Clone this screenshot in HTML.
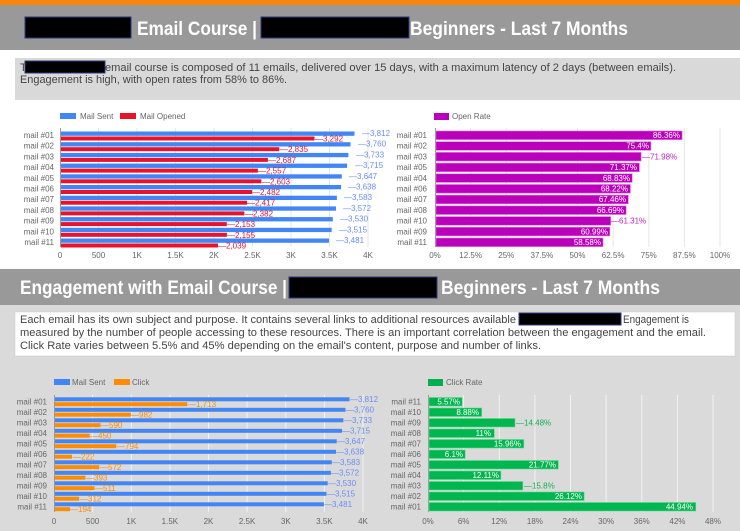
<!DOCTYPE html>
<html><head><meta charset="utf-8"><style>
body{margin:0;width:740px;height:531px;overflow:hidden;background:#fff;font-family:"Liberation Sans",sans-serif}
svg{display:block}
.t{font-family:"Liberation Sans",sans-serif;font-size:8px;fill:#666}
.h{font-family:"Liberation Sans",sans-serif;font-weight:bold;font-size:19px;fill:#fff}
.p{font-family:"Liberation Sans",sans-serif;font-size:11px;fill:#444}
.vb{font-size:8px;fill:#6a8ef5;font-family:"Liberation Sans",sans-serif}
.vr{font-size:8px;fill:#e8132b;font-family:"Liberation Sans",sans-serif}
.vo{font-size:8px;fill:#ff8c00;font-family:"Liberation Sans",sans-serif}
.vw{font-size:8px;fill:#fff;font-family:"Liberation Sans",sans-serif}
.vm{font-size:8px;fill:#c020c0;font-family:"Liberation Sans",sans-serif}
.vg{font-size:8px;fill:#10b050;font-family:"Liberation Sans",sans-serif}
</style></head><body>
<svg width="740" height="531" viewBox="0 0 740 531">
<rect x="0" y="0" width="740" height="5" fill="#f7860d"/>
<rect x="0" y="5" width="740" height="45" fill="#999"/>
<rect x="25" y="17" width="106" height="21" fill="#000" stroke="#2a3a80" stroke-width="1"/>
<text x="137" y="35" class="h" textLength="120" lengthAdjust="spacingAndGlyphs">Email Course |</text>
<rect x="261" y="17" width="148" height="21" fill="#000" stroke="#2a3a80" stroke-width="1"/>
<text x="410" y="35" class="h" textLength="218" lengthAdjust="spacingAndGlyphs">Beginners - Last 7 Months</text>
<rect x="15" y="58" width="725" height="42" fill="#d9d9d9"/>
<rect x="25" y="61" width="80" height="12" fill="#000" stroke="#2a3a80"/>
<text x="20" y="71" class="p">T</text>
<text x="105" y="71" class="p" textLength="571" lengthAdjust="spacingAndGlyphs">email course is composed of 11 emails, delivered over 15 days, with a maximum latency of 2 days (between emails).</text>
<text x="20" y="83" class="p" textLength="267" lengthAdjust="spacingAndGlyphs">Engagement is high, with open rates from 58% to 86%.</text>

<!-- top-left chart -->
<rect x="60" y="113" width="16" height="6" fill="#4285f4"/><text x="80" y="119" class="t">Mail Sent</text>
<rect x="120" y="113" width="16" height="6" fill="#e8132b"/><text x="140" y="119" class="t">Mail Opened</text>
<g stroke="#e6e6e6" stroke-width="1">
<line x1="98.5" y1="128" x2="98.5" y2="247"/><line x1="137" y1="128" x2="137" y2="247"/><line x1="175.5" y1="128" x2="175.5" y2="247"/><line x1="214" y1="128" x2="214" y2="247"/><line x1="252.5" y1="128" x2="252.5" y2="247"/><line x1="291" y1="128" x2="291" y2="247"/><line x1="329.5" y1="128" x2="329.5" y2="247"/><line x1="368" y1="128" x2="368" y2="247"/>
</g>
<line x1="60.5" y1="128" x2="60.5" y2="247" stroke="#999"/>
<g class="t" text-anchor="end">
<text x="54" y="138">mail #01</text><text x="54" y="148.7">mail #02</text><text x="54" y="159.4">mail #03</text><text x="54" y="170.1">mail #04</text><text x="54" y="180.8">mail #05</text><text x="54" y="191.5">mail #06</text><text x="54" y="202.2">mail #07</text><text x="54" y="212.9">mail #08</text><text x="54" y="223.6">mail #09</text><text x="54" y="234.3">mail #10</text><text x="54" y="245">mail #11</text>
</g>
<g class="t" text-anchor="middle">
<text x="60" y="258">0</text><text x="98.5" y="258">500</text><text x="137" y="258">1K</text><text x="175.5" y="258">1.5K</text><text x="214" y="258">2K</text><text x="252.5" y="258">2.5K</text><text x="291" y="258">3K</text><text x="329.5" y="258">3.5K</text><text x="368" y="258">4K</text>
</g>
<g fill="#4285f4">
<rect x="61" y="131.5" width="293.5" height="4.3"/><rect x="61" y="142.2" width="289.5" height="4.3"/><rect x="61" y="152.9" width="287.4" height="4.3"/><rect x="61" y="163.6" width="286.1" height="4.3"/><rect x="61" y="174.3" width="280.8" height="4.3"/><rect x="61" y="185" width="280.1" height="4.3"/><rect x="61" y="195.7" width="275.9" height="4.3"/><rect x="61" y="206.4" width="275" height="4.3"/><rect x="61" y="217.1" width="271.8" height="4.3"/><rect x="61" y="227.8" width="270.7" height="4.3"/><rect x="61" y="238.5" width="268" height="4.3"/>
</g>
<g fill="#e8132b">
<rect x="61" y="136.5" width="253.5" height="4"/><rect x="61" y="147.2" width="218.3" height="4"/><rect x="61" y="157.9" width="206.9" height="4"/><rect x="61" y="168.6" width="196.9" height="4"/><rect x="61" y="179.3" width="200.4" height="4"/><rect x="61" y="190" width="191.1" height="4"/><rect x="61" y="200.7" width="186.1" height="4"/><rect x="61" y="211.4" width="183.4" height="4"/><rect x="61" y="222.1" width="165.8" height="4"/><rect x="61" y="232.8" width="165.9" height="4"/><rect x="61" y="243.5" width="157" height="4"/>
</g>
<g class="vb">
<text x="362" y="136">—3,812</text><text x="358" y="146.7">—3,760</text><text x="356" y="157.4">—3,733</text><text x="355" y="168.1">—3,715</text><text x="349" y="178.8">—3,647</text><text x="348" y="189.5">—3,638</text><text x="344" y="200.2">—3,583</text><text x="343" y="210.9">—3,572</text><text x="340" y="221.6">—3,530</text><text x="339" y="232.3">—3,515</text><text x="336" y="243">—3,481</text>
</g>
<g class="vr">
<text x="315" y="141.5">—3,292</text><text x="280" y="152.2">—2,835</text><text x="268" y="162.9">—2,687</text><text x="258" y="173.6">—2,557</text><text x="262" y="184.3">—2,603</text><text x="252" y="195">—2,482</text><text x="247" y="205.7">—2,417</text><text x="245" y="216.4">—2,382</text><text x="227" y="227.1">—2,153</text><text x="227" y="237.8">—2,155</text><text x="218" y="248.5">—2,039</text>
</g>

<!-- top-right chart -->
<rect x="434" y="113" width="15" height="7" fill="#bb00bb"/><text x="452" y="119" class="t">Open Rate</text>
<g stroke="#e6e6e6">
<line x1="470.6" y1="128" x2="470.6" y2="247"/><line x1="506.3" y1="128" x2="506.3" y2="247"/><line x1="541.9" y1="128" x2="541.9" y2="247"/><line x1="577.5" y1="128" x2="577.5" y2="247"/><line x1="613.1" y1="128" x2="613.1" y2="247"/><line x1="648.8" y1="128" x2="648.8" y2="247"/><line x1="684.4" y1="128" x2="684.4" y2="247"/><line x1="720" y1="128" x2="720" y2="247"/>
</g>
<line x1="435.5" y1="128" x2="435.5" y2="247" stroke="#999"/>
<g class="t" text-anchor="end">
<text x="427" y="138">mail #01</text><text x="427" y="148.7">mail #02</text><text x="427" y="159.4">mail #03</text><text x="427" y="170.1">mail #05</text><text x="427" y="180.8">mail #04</text><text x="427" y="191.5">mail #06</text><text x="427" y="202.2">mail #07</text><text x="427" y="212.9">mail #08</text><text x="427" y="223.6">mail #10</text><text x="427" y="234.3">mail #09</text><text x="427" y="245">mail #11</text>
</g>
<g class="t" text-anchor="middle">
<text x="435" y="258">0%</text><text x="470.6" y="258">12.5%</text><text x="506.3" y="258">25%</text><text x="541.9" y="258">37.5%</text><text x="577.5" y="258">50%</text><text x="613.1" y="258">62.5%</text><text x="648.8" y="258">75%</text><text x="684.4" y="258">87.5%</text><text x="720" y="258">100%</text>
</g>
<g fill="#bb00bb" stroke="#e070e0" stroke-width="0.6">
<rect x="436" y="131" width="246.1" height="8.6"/><rect x="436" y="141.7" width="214.9" height="8.6"/><rect x="436" y="152.4" width="205.1" height="8.6"/><rect x="436" y="163.1" width="203.4" height="8.6"/><rect x="436" y="173.8" width="196.2" height="8.6"/><rect x="436" y="184.5" width="194.4" height="8.6"/><rect x="436" y="195.2" width="192.3" height="8.6"/><rect x="436" y="205.9" width="190.1" height="8.6"/><rect x="436" y="216.6" width="174.7" height="8.6"/><rect x="436" y="227.3" width="173.8" height="8.6"/><rect x="436" y="238" width="167" height="8.6"/>
</g>
<g class="vw" text-anchor="end">
<text x="680" y="138">86.36%</text><text x="649" y="148.7">75.4%</text><text x="637" y="170.1">71.37%</text><text x="630" y="180.8">68.83%</text><text x="628" y="191.5">68.22%</text><text x="626" y="202.2">67.46%</text><text x="624" y="212.9">66.69%</text><text x="608" y="234.3">60.99%</text><text x="601" y="245">58.58%</text>
</g>
<g class="vm"><text x="642" y="159.4">—71.98%</text><text x="611" y="223.6">—61.31%</text></g>

<!-- second section -->
<rect x="0" y="262" width="740" height="7" fill="#fff"/>
<rect x="0" y="269" width="740" height="262" fill="#dadada"/>
<rect x="0" y="269" width="740" height="36" fill="#999"/>
<text x="20" y="294" class="h" textLength="267" lengthAdjust="spacingAndGlyphs">Engagement with Email Course |</text>
<rect x="289" y="277" width="148" height="21" fill="#000" stroke="#2a3a80"/>
<text x="441" y="294" class="h" textLength="219" lengthAdjust="spacingAndGlyphs">Beginners - Last 7 Months</text>
<rect x="15" y="312" width="720" height="44" fill="#fff" stroke="#ccc" stroke-width="0.5"/>
<text x="20" y="323" class="p" textLength="496" lengthAdjust="spacingAndGlyphs">Each email has its own subject and purpose. It contains several links to additional resources available</text>
<rect x="519" y="313" width="102" height="12" fill="#000" stroke="#2a3a80"/>
<text x="623" y="323" class="p" textLength="66" lengthAdjust="spacingAndGlyphs">Engagement is</text>
<text x="20" y="336" class="p" textLength="686" lengthAdjust="spacingAndGlyphs">measured by the number of people accessing to these resources. There is an important correlation between the engagement and the email.</text>
<text x="20" y="349" class="p" textLength="521" lengthAdjust="spacingAndGlyphs">Click Rate varies between 5.5% and 45% depending on the email's content, purpose and number of links.</text>

<!-- bottom-left -->
<rect x="54" y="379" width="16" height="6" fill="#4285f4"/><text x="72" y="385" class="t">Mail Sent</text>
<rect x="114" y="379" width="16" height="6" fill="#ff8c00"/><text x="132" y="385" class="t">Click</text>
<g stroke="#f2f2f2">
<line x1="92.6" y1="395" x2="92.6" y2="512"/><line x1="131.3" y1="395" x2="131.3" y2="512"/><line x1="169.9" y1="395" x2="169.9" y2="512"/><line x1="208.5" y1="395" x2="208.5" y2="512"/><line x1="247.1" y1="395" x2="247.1" y2="512"/><line x1="285.8" y1="395" x2="285.8" y2="512"/><line x1="324.4" y1="395" x2="324.4" y2="512"/><line x1="363" y1="395" x2="363" y2="512"/>
</g>
<line x1="54.5" y1="395" x2="54.5" y2="512" stroke="#999"/>
<g class="t" text-anchor="end">
<text x="47" y="404.5">mail #01</text><text x="47" y="415">mail #02</text><text x="47" y="425.5">mail #03</text><text x="47" y="436">mail #04</text><text x="47" y="446.5">mail #05</text><text x="47" y="457">mail #06</text><text x="47" y="467.5">mail #07</text><text x="47" y="478">mail #08</text><text x="47" y="488.5">mail #09</text><text x="47" y="499">mail #10</text><text x="47" y="509.5">mail #11</text>
</g>
<g class="t" text-anchor="middle">
<text x="54" y="524">0</text><text x="92.6" y="524">500</text><text x="131.3" y="524">1K</text><text x="169.9" y="524">1.5K</text><text x="208.5" y="524">2K</text><text x="247.1" y="524">2.5K</text><text x="285.8" y="524">3K</text><text x="324.4" y="524">3.5K</text><text x="363" y="524">4K</text>
</g>
<g fill="#4285f4">
<rect x="55" y="397.3" width="294.5" height="4"/><rect x="55" y="407.8" width="290.5" height="4"/><rect x="55" y="418.3" width="288.4" height="4"/><rect x="55" y="428.8" width="287" height="4"/><rect x="55" y="439.3" width="281.7" height="4"/><rect x="55" y="449.8" width="281" height="4"/><rect x="55" y="460.3" width="276.8" height="4"/><rect x="55" y="470.8" width="275.9" height="4"/><rect x="55" y="481.3" width="272.7" height="4"/><rect x="55" y="491.8" width="271.5" height="4"/><rect x="55" y="502.3" width="268.9" height="4"/>
</g>
<g fill="#ff8c00">
<rect x="55" y="402.2" width="132.3" height="4"/><rect x="55" y="412.7" width="75.9" height="4"/><rect x="55" y="423.2" width="45.6" height="4"/><rect x="55" y="433.7" width="34.8" height="4"/><rect x="55" y="444.2" width="61.3" height="4"/><rect x="55" y="454.7" width="17.1" height="4"/><rect x="55" y="465.2" width="44.2" height="4"/><rect x="55" y="475.7" width="30.4" height="4"/><rect x="55" y="486.2" width="39.5" height="4"/><rect x="55" y="496.7" width="24.1" height="4"/><rect x="55" y="507.2" width="15" height="4"/>
</g>
<g class="vb">
<text x="350" y="402">—3,812</text><text x="346" y="412.5">—3,760</text><text x="344" y="423">—3,733</text><text x="342" y="433.5">—3,715</text><text x="337" y="444">—3,647</text><text x="336" y="454.5">—3,638</text><text x="332" y="465">—3,583</text><text x="331" y="475.5">—3,572</text><text x="328" y="486">—3,530</text><text x="327" y="496.5">—3,515</text><text x="324" y="507">—3,481</text>
</g>
<g class="vo">
<text x="188" y="407">—1,713</text><text x="131" y="417.5">—982</text><text x="101" y="428">—590</text><text x="90" y="438.5">—450</text><text x="117" y="449">—794</text><text x="73" y="459.5">—222</text><text x="100" y="470">—572</text><text x="86" y="480.5">—393</text><text x="95" y="491">—511</text><text x="80" y="501.5">—312</text><text x="70" y="512">—194</text>
</g>

<!-- bottom-right -->
<rect x="428" y="379" width="15" height="7" fill="#00b050"/><text x="446" y="385" class="t">Click Rate</text>
<g stroke="#f2f2f2">
<line x1="463.6" y1="395" x2="463.6" y2="512"/><line x1="499.3" y1="395" x2="499.3" y2="512"/><line x1="534.9" y1="395" x2="534.9" y2="512"/><line x1="570.5" y1="395" x2="570.5" y2="512"/><line x1="606.1" y1="395" x2="606.1" y2="512"/><line x1="641.8" y1="395" x2="641.8" y2="512"/><line x1="677.4" y1="395" x2="677.4" y2="512"/><line x1="713" y1="395" x2="713" y2="512"/>
</g>
<line x1="428.5" y1="395" x2="428.5" y2="512" stroke="#999"/>
<g class="t" text-anchor="end">
<text x="421" y="404.5">mail #11</text><text x="421" y="415">mail #10</text><text x="421" y="425.5">mail #09</text><text x="421" y="436">mail #08</text><text x="421" y="446.5">mail #07</text><text x="421" y="457">mail #06</text><text x="421" y="467.5">mail #05</text><text x="421" y="478">mail #04</text><text x="421" y="488.5">mail #03</text><text x="421" y="499">mail #02</text><text x="421" y="509.5">mail #01</text>
</g>
<g class="t" text-anchor="middle">
<text x="428" y="524">0%</text><text x="463.6" y="524">6%</text><text x="499.3" y="524">12%</text><text x="534.9" y="524">18%</text><text x="570.5" y="524">24%</text><text x="606.1" y="524">30%</text><text x="641.8" y="524">36%</text><text x="677.4" y="524">42%</text><text x="713" y="524">48%</text>
</g>
<g fill="#00b64e" stroke="#60d890" stroke-width="0.6">
<rect x="429" y="397.5" width="33.1" height="8.5"/><rect x="429" y="408" width="52.7" height="8.5"/><rect x="429" y="418.5" width="86" height="8.5"/><rect x="429" y="429" width="65.3" height="8.5"/><rect x="429" y="439.5" width="94.8" height="8.5"/><rect x="429" y="450" width="36.2" height="8.5"/><rect x="429" y="460.5" width="129.3" height="8.5"/><rect x="429" y="471" width="71.9" height="8.5"/><rect x="429" y="481.5" width="93.8" height="8.5"/><rect x="429" y="492" width="155.1" height="8.5"/><rect x="429" y="502.5" width="266.8" height="8.5"/>
</g>
<g class="vw" text-anchor="end">
<text x="460" y="404.5">5.57%</text><text x="479" y="415">8.88%</text><text x="491" y="436">11%</text><text x="521" y="446.5">15.96%</text><text x="463" y="457">6.1%</text><text x="556" y="467.5">21.77%</text><text x="499" y="478">12.11%</text><text x="582" y="499">26.12%</text><text x="693" y="509.5">44.94%</text>
</g>
<g class="vg"><text x="516" y="425.5">—14.48%</text><text x="524" y="488.5">—15.8%</text></g>
</svg>
</body></html>
